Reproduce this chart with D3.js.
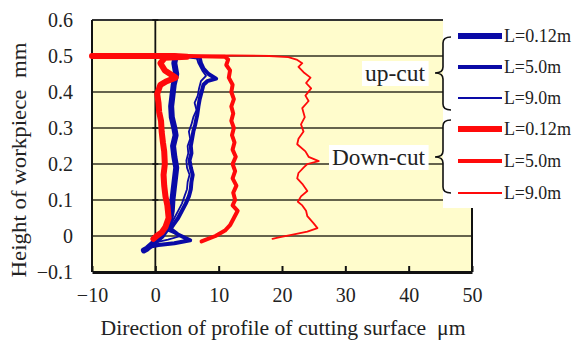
<!DOCTYPE html>
<html>
<head>
<meta charset="utf-8">
<script src="https://cdn.jsdelivr.net/npm/d3@7"></script>
<style>
  body { margin: 0; background: #fff; }
  svg text { font-family: "Liberation Serif", "DejaVu Serif", serif !important; fill: #222; }
</style>
</head>
<body>
<div class="chart"></div>
<script>
// axis ticks
const xTicks = [-10, 0, 10, 20, 30, 40, 50];
const yTicks = [-0.1, 0, 0.1, 0.2, 0.3, 0.4, 0.5, 0.6];

// profiles: [deviation um, height mm]
const upThick = [[1.5,0.5],[3.2,0.498],[3.0,0.48],[3.3,0.45],[2.9,0.42],[2.7,0.39],[2.5,0.36],[2.6,0.33],[3.0,0.3],[3.2,0.28],[2.8,0.25],[3.0,0.22],[3.3,0.19],[3.1,0.16],[2.9,0.13],[2.7,0.1],[2.6,0.07],[2.3,0.04],[1.8,0.02],[1.0,0.0],[0.0,-0.015],[-1.3,-0.035],[-1.8,-0.04]];
const upMid = [[3.3,0.5],[5,0.499],[7.0,0.495],[7.2,0.48],[7.6,0.465],[8.4,0.45],[9.6,0.437],[8.2,0.43],[7.6,0.42],[7.3,0.4],[7.0,0.38],[6.8,0.36],[6.6,0.335],[6.3,0.31],[6.0,0.29],[5.8,0.27],[5.6,0.25],[5.7,0.23],[5.4,0.21],[5.6,0.19],[5.9,0.17],[5.7,0.15],[5.6,0.13],[5.3,0.11],[4.8,0.09],[4.2,0.07],[3.6,0.05],[3.0,0.035],[2.4,0.02],[3.5,0.005],[5.5,-0.012],[3.0,-0.02],[0.5,-0.025],[-1.0,-0.03]];
const upThin = [[3.5,0.5],[6.5,0.497],[6.8,0.48],[7.4,0.46],[8.0,0.445],[7.2,0.43],[6.9,0.41],[6.7,0.39],[6.2,0.37],[6.5,0.35],[6.0,0.33],[5.7,0.31],[5.3,0.29],[5.5,0.27],[5.1,0.25],[5.2,0.23],[4.9,0.21],[5.0,0.19],[5.4,0.17],[5.1,0.15],[5.0,0.13],[4.6,0.11],[4.2,0.09],[3.6,0.07],[3.0,0.05],[2.4,0.03],[2.0,0.015],[4.0,0.0],[2.0,-0.01],[-0.5,-0.02]];
const downThick = [[-10,0.5],[3,0.5],[5,0.498],[1.5,0.495],[0.8,0.48],[1.5,0.46],[3.2,0.44],[1.8,0.43],[0.8,0.42],[0.3,0.395],[0.5,0.37],[0.6,0.345],[0.9,0.32],[1.0,0.29],[1.2,0.26],[1.4,0.235],[1.5,0.2],[1.3,0.17],[1.4,0.14],[1.6,0.11],[1.9,0.085],[2.1,0.05],[1.6,0.025],[1.0,0.01],[0.2,0.0],[-0.3,-0.008]];
const downMid = [[-10,0.5],[5,0.5],[11,0.498],[11.5,0.49],[11.2,0.475],[11.8,0.46],[11.6,0.44],[12.2,0.42],[12.0,0.4],[12.4,0.38],[12.0,0.36],[12.3,0.34],[12.0,0.32],[12.4,0.3],[12.1,0.28],[12.5,0.26],[12.2,0.24],[12.7,0.22],[12.2,0.2],[12.6,0.18],[12.2,0.16],[12.8,0.14],[12.3,0.12],[12.6,0.1],[12.2,0.085],[13.0,0.07],[12.4,0.05],[11.8,0.03],[11.0,0.015],[9.5,0.0],[8.0,-0.01],[7.3,-0.015]];
const downThin = [[-10,0.5],[5,0.5],[12,0.502],[18,0.5],[21,0.497],[22.3,0.49],[23.2,0.48],[22.6,0.47],[23.4,0.455],[24.5,0.44],[23.8,0.425],[24.6,0.41],[23.7,0.39],[24.2,0.375],[23.2,0.355],[23.6,0.33],[23.0,0.31],[23.4,0.29],[22.6,0.27],[22.4,0.255],[23.7,0.235],[24.2,0.22],[25.8,0.208],[24.0,0.2],[23.4,0.19],[22.6,0.175],[22.4,0.16],[23.2,0.145],[24.0,0.125],[23.0,0.11],[22.5,0.095],[23.2,0.085],[23.8,0.07],[24.0,0.055],[25.0,0.035],[25.6,0.022],[24.0,0.012],[21.5,0.003],[19.5,-0.004],[18.5,-0.008]];

const legendLabels = ['L=0.12m', 'L=5.0m', 'L=9.0m', 'L=0.12m', 'L=5.0m', 'L=9.0m'];
const groupLabels = ['up-cut', 'Down-cut'];

const blue = '#0a0aa6', red = '#ff0a0a';
const series = [
    {data: upThick, color: blue, w: 6},
    {data: upMid, color: blue, w: 4},
    {data: upThin, color: blue, w: 1.8},
    {data: downThick, color: red, w: 6},
    {data: downMid, color: red, w: 4},
    {data: downThin, color: red, w: 1.8},
];

const W = 574, H = 343;
const margin = {top: 20, right: 102, bottom: 71, left: 92};
const width = W - margin.left - margin.right;
const height = H - margin.top - margin.bottom;
const serif = '"Liberation Serif", "DejaVu Serif", serif';

const svg = d3.select('.chart').append('svg')
    .attr('width', W)
    .attr('height', H)
    .attr('font-family', serif);
const g = svg.append('g')
    .attr('transform', 'translate(' + margin.left + ',' + margin.top + ')');

const x = d3.scaleLinear().domain([-10, 50]).range([0, width]);
const y = d3.scaleLinear().domain([-0.1, 0.6]).range([height, 0]);

// plot background
g.append('rect')
    .attr('width', width).attr('height', height)
    .attr('fill', '#fffccc');

// horizontal gridlines
g.selectAll('.grid').data(yTicks.slice(1, -1)).enter().append('line')
    .attr('x1', 0).attr('x2', width)
    .attr('y1', d => y(d)).attr('y2', d => y(d))
    .attr('stroke', '#65634c').attr('stroke-width', 2.2);

// border
g.append('line').attr('x1', 0).attr('x2', width).attr('y1', 0).attr('y2', 0)
    .attr('stroke', '#333').attr('stroke-width', 1.8);
g.append('line').attr('x1', 0).attr('x2', 0).attr('y1', 0).attr('y2', height)
    .attr('stroke', '#111').attr('stroke-width', 2);
g.append('line').attr('x1', width).attr('x2', width).attr('y1', 0).attr('y2', height)
    .attr('stroke', '#111').attr('stroke-width', 2);

// x axis at the bottom, ticks pointing inward
const xAxis = g.append('g')
    .attr('transform', 'translate(0,' + height + ')')
    .call(d3.axisBottom(x).tickValues(xTicks).tickSizeInner(-6).tickSizeOuter(0).tickPadding(16).tickFormat(d3.format('d')));
xAxis.attr('font-family', serif);
xAxis.select('.domain').attr('stroke', '#111').attr('stroke-width', 3);
xAxis.selectAll('.tick line').attr('stroke', '#111').attr('stroke-width', 2);
xAxis.selectAll('text').attr('font-size', 20).attr('fill', '#222');

// y axis crosses at x = 0, labels at the left edge
g.append('line').attr('x1', x(0)).attr('x2', x(0)).attr('y1', 0).attr('y2', height)
    .attr('stroke', '#111').attr('stroke-width', 1.8);
g.selectAll('.ytick').data(yTicks).enter().append('line')
    .attr('x1', x(0) - 3).attr('x2', x(0) + 3)
    .attr('y1', d => y(d)).attr('y2', d => y(d))
    .attr('stroke', '#111').attr('stroke-width', 1.5);
g.selectAll('.ylab').data(yTicks).enter().append('text')
    .attr('x', -19).attr('y', d => y(d) + 7)
    .attr('text-anchor', 'end')
    .attr('font-size', 20)
    .text(d => d === 0 ? '0' : d3.format('.1f')(d));

// profiles
const line = d3.line().x(d => x(d[0])).y(d => y(d[1]));
g.selectAll('.profile').data(series).enter().append('path')
    .attr('d', d => line(d.data))
    .attr('fill', 'none')
    .attr('stroke', d => d.color)
    .attr('stroke-width', d => d.w)
    .attr('stroke-linejoin', 'round')
    .attr('stroke-linecap', 'round');

// legend panel
svg.append('rect').attr('x', 443).attr('y', 17).attr('width', 131).attr('height', 191).attr('fill', '#fff');
const legendY = [36, 67, 98, 129, 161, 193];
series.forEach((s, i) => {
    svg.append('line').attr('x1', 458).attr('x2', 502)
        .attr('y1', legendY[i]).attr('y2', legendY[i])
        .attr('stroke', s.color).attr('stroke-width', s.w);
    svg.append('text').attr('x', 504).attr('y', legendY[i] + 6)
        .attr('font-size', 18)
        .attr('textLength', i % 3 === 0 ? 67 : 57).attr('lengthAdjust', 'spacingAndGlyphs')
        .text(legendLabels[i]);
});

// braces
const brace = (xv, top, bot, mid) => {
    const r = 6;
    return 'M' + (xv + 8) + ',' + top + ' Q' + xv + ',' + top + ' ' + xv + ',' + (top + r) +
        ' L' + xv + ',' + (mid - r) + ' Q' + xv + ',' + mid + ' ' + (xv - 8) + ',' + mid +
        ' Q' + xv + ',' + mid + ' ' + xv + ',' + (mid + r) +
        ' L' + xv + ',' + (bot - r) + ' Q' + xv + ',' + bot + ' ' + (xv + 8) + ',' + bot;
};
[[37, 110, 73, 60], [120, 193, 157, 93]].forEach((b, i) => {
    svg.append('path').attr('d', brace(443, b[0], b[1], b[2]))
        .attr('fill', 'none').attr('stroke', '#111').attr('stroke-width', 1.6);
    const bg = svg.append('rect').attr('fill', '#fff');
    const t = svg.append('text').attr('x', 425).attr('y', b[2] + 8)
        .attr('text-anchor', 'end').attr('font-size', 23)
        .attr('textLength', b[3]).attr('lengthAdjust', 'spacingAndGlyphs')
        .text(groupLabels[i]);
    const bb = t.node().getBBox();
    bg.attr('x', bb.x - 3).attr('y', bb.y).attr('width', bb.width + 6).attr('height', bb.height);
});

// axis titles
svg.append('text')
    .attr('x', 283).attr('y', 335)
    .attr('text-anchor', 'middle').attr('font-size', 20)
    .attr('textLength', 365).attr('lengthAdjust', 'spacingAndGlyphs')
    .text('Direction of profile of cutting surface \u00a0\u03bcm');
svg.append('text')
    .attr('transform', 'translate(26,160) rotate(-90)')
    .attr('text-anchor', 'middle').attr('font-size', 20)
    .attr('textLength', 235).attr('lengthAdjust', 'spacingAndGlyphs')
    .text('Height of workpiece \u00a0mm');
</script>
</body>
</html>
